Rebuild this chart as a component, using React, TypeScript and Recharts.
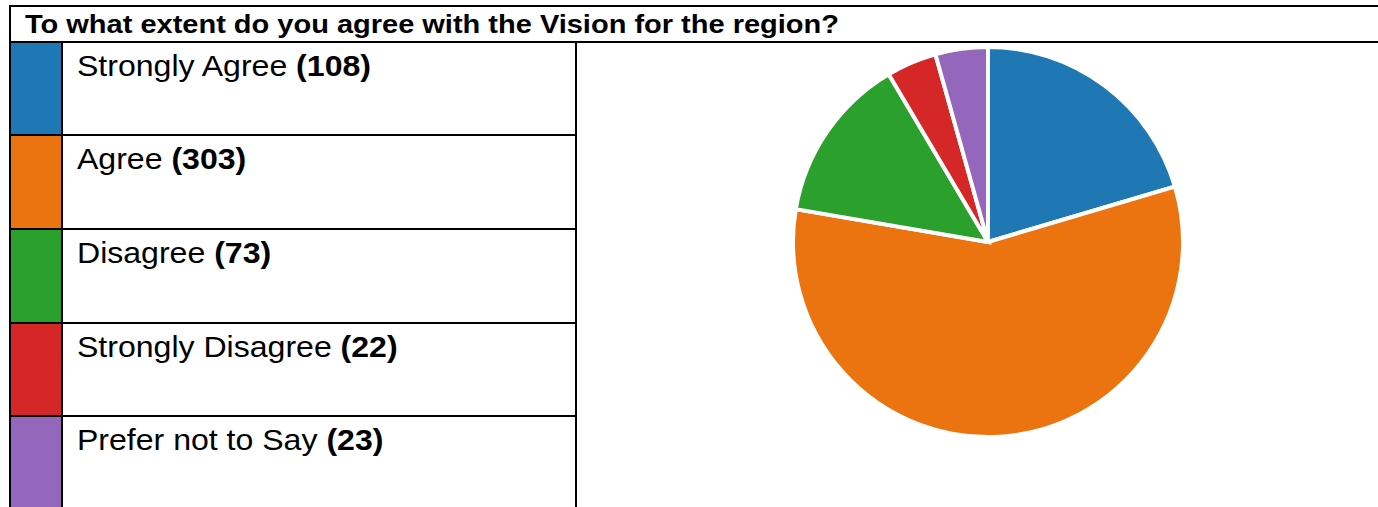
import React from "react";
import { PieChart, Pie, Cell, Legend } from "recharts";

const title = "To what extent do you agree with the Vision for the region?";
const categories = ["Strongly Agree", "Agree", "Disagree", "Strongly Disagree", "Prefer not to Say"];
const counts = [108, 303, 73, 22, 23];
const colors = ["#1f77b4", "#ec7410", "#2ca02c", "#d62728", "#9467bd"];

const data = categories.map((name, i) => ({ name, value: counts[i] }));

const FONT = '"Liberation Sans", Arial, Helvetica, sans-serif';
const ROW_TOPS = [43, 136, 230, 324, 417];
const ROW_H = 93;

const line = (left: number, top: number, width: number, height: number, key: string) => (
  <div key={key} style={{ position: "absolute", left, top, width, height, background: "#000" }} />
);

const renderTable = () => (
  <div style={{ position: "relative", width: 1378, height: 507, fontFamily: FONT, color: "#000" }}>
    <div
      style={{
        position: "absolute",
        left: 25,
        top: 9,
        fontSize: 26,
        fontWeight: "bold",
        lineHeight: "30px",
        whiteSpace: "nowrap",
        transform: "scaleX(1.115)",
        transformOrigin: "left top",
      }}
    >
      {title}
    </div>
    {data.map((d, i) => (
      <React.Fragment key={d.name}>
        <div
          style={{
            position: "absolute",
            left: 11,
            top: ROW_TOPS[i],
            width: 50,
            height: ROW_H,
            background: colors[i],
          }}
        />
        <div
          style={{
            position: "absolute",
            left: 77,
            top: ROW_TOPS[i] + 6,
            fontSize: 29,
            lineHeight: "34px",
            whiteSpace: "nowrap",
            transform: "scaleX(1.105)",
            transformOrigin: "left top",
          }}
        >
          {d.name} <b>({d.value})</b>
        </div>
      </React.Fragment>
    ))}
    {line(9, 5, 1369, 2, "top")}
    {line(9, 5, 2, 502, "left")}
    {line(9, 41, 1369, 2, "titleBottom")}
    {line(61, 43, 2, 464, "colorRight")}
    {line(575, 43, 2, 464, "textRight")}
    {ROW_TOPS.slice(1).map((t, i) => line(9, t - 2, 568, 2, "row" + i))}
  </div>
);

export default function App() {
  return (
    <div style={{ position: "absolute", left: 0, top: 0, width: 1378, height: 507, background: "#fff" }}>
      <PieChart width={1378} height={507} margin={{ top: 0, right: 0, bottom: 0, left: 0 }}>
        <Legend
          content={renderTable}
          layout="vertical"
          align="center"
          verticalAlign="middle"
          wrapperStyle={{ left: 0, top: 0, width: 1378, height: 507 }}
        />
        <Pie
          data={data}
          dataKey="value"
          nameKey="name"
          cx={988}
          cy={242}
          outerRadius={195}
          startAngle={90}
          endAngle={-270}
          stroke="#fff"
          strokeWidth={4}
          isAnimationActive={false}
        >
          {data.map((d, i) => (
            <Cell key={d.name} fill={colors[i]} />
          ))}
        </Pie>
      </PieChart>
    </div>
  );
}
